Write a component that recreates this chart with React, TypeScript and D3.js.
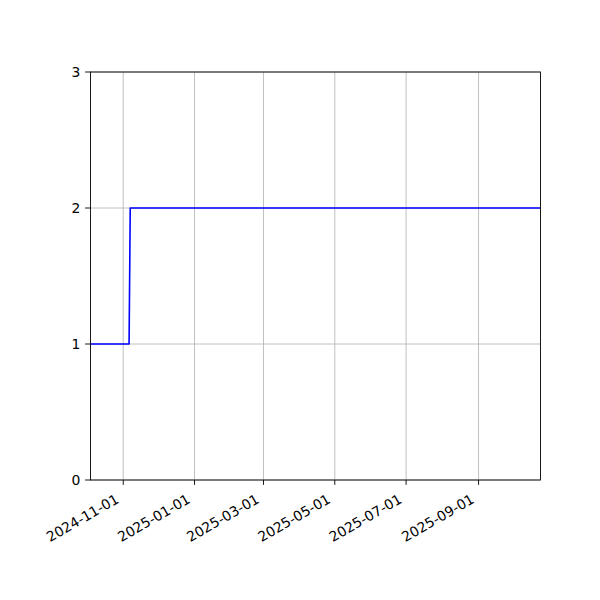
import { useEffect, useRef } from 'react'
import * as d3 from 'd3'

const dates = ['2024-10-04', '2024-11-06', '2024-11-07', '2025-10-24']
const values = [1, 1, 2, 2]
const xTickLabels = ['2024-11-01', '2025-01-01', '2025-03-01', '2025-05-01', '2025-07-01', '2025-09-01']
const yTicks = [0, 1, 2, 3]

const width = 600
const height = 600
const margin = { top: 72, right: 60, bottom: 120, left: 90 }

export default function App() {
  const svgRef = useRef<SVGSVGElement>(null)

  useEffect(() => {
    if (!svgRef.current) return
    const svg = d3.select(svgRef.current)
    svg.selectAll('*').remove()

    const parse = d3.utcParse('%Y-%m-%d')
    const pts = dates.map((d, i) => ({ date: parse(d) as Date, value: values[i] }))
    const innerWidth = width - margin.left - margin.right
    const innerHeight = height - margin.top - margin.bottom

    const x = d3.scaleUtc()
      .domain(d3.extent(pts, d => d.date) as [Date, Date])
      .range([0.5, innerWidth + 0.5])
    const y = d3.scaleLinear().domain([0, 3]).range([innerHeight, 0])
    const xTicks = xTickLabels.map(s => parse(s) as Date)

    const g = svg.append('g').attr('transform', `translate(${margin.left},${margin.top})`)
    const font = 'DejaVu Sans'
    const fs = 13.9
    const tick = 4.86
    const pad = 4.86

    // grid
    g.selectAll('.vgrid').data(xTicks).enter().append('line')
      .attr('x1', d => x(d)).attr('x2', d => x(d))
      .attr('y1', 0).attr('y2', innerHeight)
      .attr('stroke', '#b0b0b0').attr('stroke-width', 0.8)
    g.selectAll('.hgrid').data(yTicks).enter().append('line')
      .attr('x1', 0).attr('x2', innerWidth)
      .attr('y1', d => y(d)).attr('y2', d => y(d))
      .attr('stroke', '#b0b0b0').attr('stroke-width', 0.8)

    const line = d3.line<{ date: Date; value: number }>()
      .x(d => x(d.date))
      .y(d => y(d.value))
    g.append('path')
      .datum(pts)
      .attr('d', line)
      .attr('fill', 'none')
      .attr('stroke', 'blue')
      .attr('stroke-width', 1.6)
      .attr('stroke-linejoin', 'round')

    // frame
    g.append('rect')
      .attr('x', 0.5).attr('width', innerWidth).attr('height', innerHeight)
      .attr('fill', 'none').attr('stroke', 'black').attr('stroke-width', 0.9)

    // x ticks
    g.selectAll('.xt').data(xTicks).enter().append('line')
      .attr('x1', d => x(d)).attr('x2', d => x(d))
      .attr('y1', innerHeight).attr('y2', innerHeight + tick)
      .attr('stroke', 'black').attr('stroke-width', 0.9)
    const hcos = 16 * Math.cos(Math.PI / 6)
    g.selectAll('.xl').data(xTicks).enter().append('text')
      .attr('transform', d => `translate(${x(d) - 1.5},${innerHeight + tick + pad + hcos + 1.5}) rotate(-30)`)
      .attr('dy', -3.6)
      .attr('text-anchor', 'end')
      .attr('font-family', font).attr('font-size', fs)
      .text((d, i) => xTickLabels[i])

    // y ticks
    g.selectAll('.yt').data(yTicks).enter().append('line')
      .attr('x1', -tick).attr('x2', 0.5)
      .attr('y1', d => y(d)).attr('y2', d => y(d))
      .attr('stroke', 'black').attr('stroke-width', 0.9)
    g.selectAll('.yl').data(yTicks).enter().append('text')
      .attr('x', -tick - pad)
      .attr('y', d => y(d))
      .attr('dy', '0.35em')
      .attr('text-anchor', 'end')
      .attr('font-family', font).attr('font-size', fs)
      .text(d => String(d))
  }, [])

  return (
    <svg
      ref={svgRef}
      width={width}
      height={height}
      style={{ position: 'absolute', left: 0, top: 0, background: 'white' }}
    />
  )
}
